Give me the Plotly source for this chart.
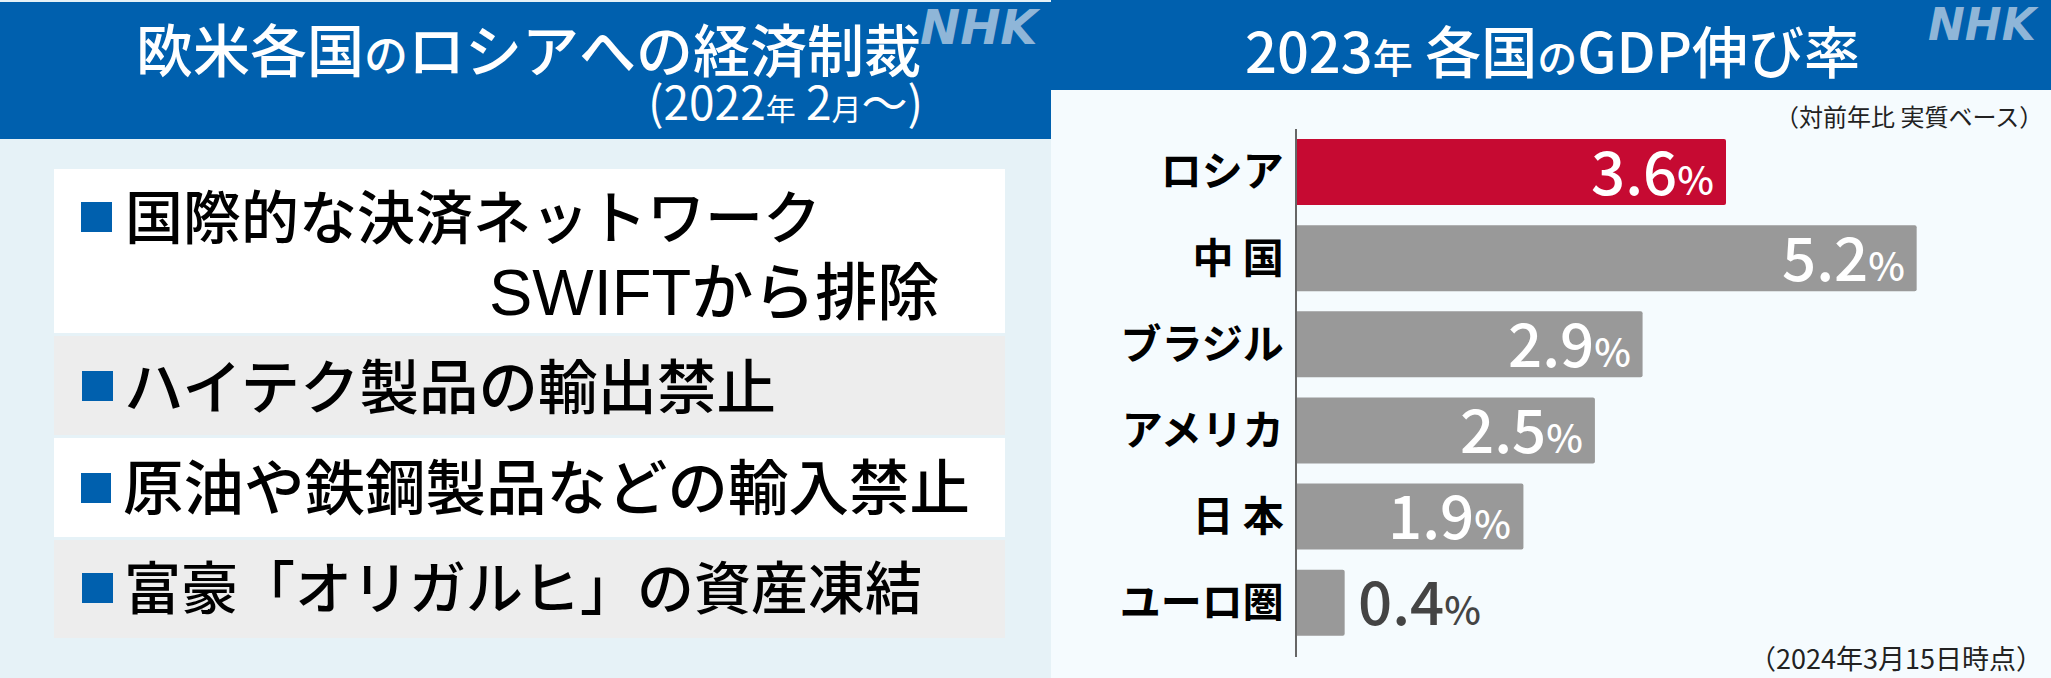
import plotly.graph_objects as go

W, H = 2051, 678
JP = "Noto Sans CJK JP"

regions = ["ロシア", "中 国", "ブラジル", "アメリカ", "日 本", "ユーロ圏"]
growth = [3.6, 5.2, 2.9, 2.5, 1.9, 0.4]
bar_colors = ["#c60a32", "#999999", "#999999", "#999999", "#999999", "#999999"]

left_title = "欧米各国<span style='font-size:44px'>の</span>ロシアへの経済制裁"
left_sub = "(2022<span style='font-size:30px'>年</span> 2<span style='font-size:30px'>月</span>～)"
right_title = "2023<span style='font-size:40px'>年</span> 各国<span style='font-size:40px'>の</span>GDP伸び率"
note_top = "（対前年比 実質ベース）"
note_bottom = "（2024年3月15日時点）"
sanctions = ["国際的な決済ネットワーク", "ハイテク製品の輸出禁止", "原油や鉄鋼製品などの輸入禁止", "富豪「オリガルヒ」の資産凍結"]
sanction_extra = "<span style='font-family:Liberation Sans;font-size:65px'>SWIFT</span>から排除"


def px(x):
    return x / W


def py(y):
    return 1 - y / H


def rect(x0, y0, x1, y1, color):
    return dict(type="rect", xref="paper", yref="paper", x0=px(x0), x1=px(x1), y0=py(y0), y1=py(y1),
                fillcolor=color, line_width=0, layer="below")


def label(x, y, text, size, color="black", anchor="left", weight=400, family=JP, italic=False):
    return dict(xref="paper", yref="paper", x=px(x), y=py(y), text=text, showarrow=False, xanchor=anchor,
                yanchor="middle", borderpad=0,
                font=dict(family=family, size=size, color=color, weight=weight,
                          style="italic" if italic else "normal"))


fig = go.Figure(go.Bar(x=growth, y=regions, orientation="h", marker=dict(color=bar_colors, cornerradius=2, line_width=0),
                       width=0.766, hoverinfo="skip"))

shapes = [
    rect(0, 0, 1051, 678, "#e6f2f7"),
    rect(0, 2, 1051, 139, "#0060ae"),
    rect(1051, 0, 2051, 678, "#f5fbfe"),
    rect(1051, 0, 2051, 90, "#0060ae"),
    rect(54, 169, 1005, 333, "white"),
    rect(54, 336, 1005, 435, "#ededed"),
    rect(54, 438, 1005, 537, "white"),
    rect(54, 540, 1005, 638, "#ededed"),
    rect(81, 202, 112, 232, "#0060ae"),
    rect(82, 371, 113, 401, "#0060ae"),
    rect(81, 473, 111, 503, "#0060ae"),
    rect(82, 573, 113, 603, "#0060ae"),
]

notes = [
    label(135, 47, left_title, 57, "white", weight=500),
    label(924, 100, left_sub, 46, "white", anchor="right"),
    label(1244, 48, right_title, 56, "white", weight=500),
    label(2044, 115, note_top, 24, "#222222", anchor="right"),
    label(2044, 657, note_bottom, 27, "#222222", anchor="right"),
    label(919, 27, "NHK", 48, "#8fb6d8", weight=700, family="DejaVu Sans", italic=True),
    label(1927, 24, "NHK", 44, "#8fb6d8", weight=700, family="DejaVu Sans", italic=True),
    label(124, 214, sanctions[0], 58, weight=500),
    label(488, 288, sanction_extra, 62, weight=500),
    label(123, 383, sanctions[1], 59.5, weight=500),
    label(122, 483, sanctions[2], 60.5, weight=500),
    label(123, 584, sanctions[3], 57, weight=500),
]

# value labels sit inside the bar, except the short one
for name, v in zip(regions, growth):
    inside = v >= 1
    notes.append(dict(xref="x", yref="y", x=v, y=name, text=f"{v}<span style='font-size:39px'>%</span>",
                      showarrow=False, xanchor="right" if inside else "left", xshift=-11 if inside else 12,
                      yshift=4, yanchor="middle", borderpad=0,
                      font=dict(family=JP, size=60, weight=500, color="white" if inside else "#444444")))

fig.update_layout(
    width=W, height=H, margin=dict(l=0, r=0, t=0, b=0, pad=0),
    paper_bgcolor="#f5fbfe", plot_bgcolor="rgba(0,0,0,0)", showlegend=False,
    shapes=shapes, annotations=notes,
    xaxis=dict(domain=[px(1297), px(2012)], range=[0, 6], visible=False),
    yaxis=dict(domain=[py(657), py(129)], range=[5.63, -0.5], showline=True, linecolor="#666666", linewidth=2,
               showgrid=False, zeroline=False, ticks="", ticklabelstandoff=3,
               tickfont=dict(family=JP, size=41, color="black", weight=700)),
)

fig.write_html("out.html", config={"displayModeBar": False}, post_script="document.body.style.margin='0'")
